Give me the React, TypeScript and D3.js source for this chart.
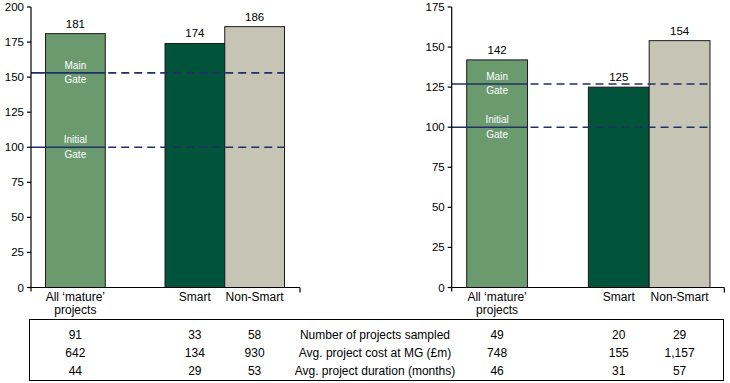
import React from "react";
import * as d3 from "d3";

const slots = ["all", "gap", "smart", "nonsmart"];
const barKeys = ["all", "smart", "nonsmart"];
const barColors = ["#6A9A6E", "#01533A", "#C6C4B5"];
const leftValues = [181, 174, 186];
const rightValues = [142, 125, 154];
const leftGates = [153, 100];
const rightGates = [127, 100];
const gateLabels = [["Main", "Gate"], ["Initial", "Gate"]];
const leftTicks = [0, 25, 50, 75, 100, 125, 150, 175, 200];
const rightTicks = [0, 25, 50, 75, 100, 125, 150, 175];
const tableLabels = [
  "Number of projects sampled",
  "Avg. project cost at MG (£m)",
  "Avg. project duration (months)",
];
const leftTable = [
  ["91", "33", "58"],
  ["642", "134", "930"],
  ["44", "29", "53"],
];
const rightTable = [
  ["49", "20", "29"],
  ["748", "155", "1,157"],
  ["46", "31", "57"],
];

const FONT = "'Liberation Sans', Arial, sans-serif";

type PanelProps = {
  axisX: number;
  axisEnd: number;
  barRange: [number, number];
  yMax: number;
  ticks: number[];
  values: number[];
  gates: number[];
};

function Panel({ axisX, axisEnd, barRange, yMax, ticks, values, gates }: PanelProps) {
  const y = d3.scaleLinear().domain([0, yMax]).range([287.5, 7]);
  const x = d3.scaleBand<string>().domain(slots).range(barRange).padding(0);
  const bw = x.bandwidth();
  const x0 = y(0);
  const firstRight = (x("all") as number) + bw;
  const lastRight = (x("nonsmart") as number) + bw;
  const allCenter = (x("all") as number) + bw / 2;
  return (
    <g>
      {barKeys.map((k, i) => (
        <rect
          key={k}
          x={x(k)}
          y={y(values[i])}
          width={bw}
          height={x0 - y(values[i])}
          fill={barColors[i]}
          stroke="#1a1a1a"
          strokeWidth={1}
        />
      ))}
      {barKeys.map((k, i) => (
        <text
          key={"v" + k}
          x={(x(k) as number) + bw / 2}
          y={y(values[i]) - 6}
          textAnchor="middle"
          fontSize={11.5}
          fontFamily={FONT}
          fill="#000"
        >
          {values[i]}
        </text>
      ))}
      {gates.map((g, i) => (
        <g key={"g" + i}>
          <line x1={axisX} x2={firstRight} y1={y(g)} y2={y(g)} stroke="#1F3164" strokeWidth={1.6} />
          <line
            x1={firstRight}
            x2={lastRight}
            y1={y(g)}
            y2={y(g)}
            stroke="#1F3164"
            strokeWidth={1.6}
            strokeDasharray="8,5"
            strokeDashoffset={-3}
          />
          <text x={allCenter} y={y(g) - 4} textAnchor="middle" fontSize={10} fontFamily={FONT} fill="#fff">
            {gateLabels[i][0]}
          </text>
          <text x={allCenter} y={y(g) + 10.5} textAnchor="middle" fontSize={10} fontFamily={FONT} fill="#fff">
            {gateLabels[i][1]}
          </text>
        </g>
      ))}
      <line x1={axisX} x2={axisX} y1={y(yMax)} y2={x0 + 4} stroke="#000" strokeWidth={1.2} />
      <line x1={axisX} x2={axisEnd} y1={x0} y2={x0} stroke="#000" strokeWidth={1.2} />
      <line x1={axisEnd} x2={axisEnd} y1={x0} y2={x0 + 5} stroke="#000" strokeWidth={1.2} />
      {ticks.map((t) => (
        <g key={"t" + t}>
          <line x1={axisX - 4} x2={axisX} y1={y(t)} y2={y(t)} stroke="#000" strokeWidth={1.2} />
          <text
            x={axisX - 7}
            y={y(t) + 4}
            textAnchor="end"
            fontSize={11.5}
            fontFamily={FONT}
            fill="#000"
          >
            {t}
          </text>
        </g>
      ))}
      <text x={allCenter} y={300.5} textAnchor="middle" fontSize={12} fontFamily={FONT}>
        All ‘mature’
      </text>
      <text x={allCenter} y={314} textAnchor="middle" fontSize={12} fontFamily={FONT}>
        projects
      </text>
      <text x={(x("smart") as number) + bw / 2} y={300.5} textAnchor="middle" fontSize={12} fontFamily={FONT}>
        Smart
      </text>
      <text x={(x("nonsmart") as number) + bw / 2} y={300.5} textAnchor="middle" fontSize={12} fontFamily={FONT}>
        Non-Smart
      </text>
    </g>
  );
}

export default function App() {
  const leftX = d3.scaleBand<string>().domain(slots).range([45.5, 284.5]).padding(0);
  const rightX = d3.scaleBand<string>().domain(slots).range([466.7, 710]).padding(0);
  const rowY = d3.scaleBand<number>().domain([0, 1, 2]).range([326, 380]);
  const centers = (sc: d3.ScaleBand<string>) => barKeys.map((k) => (sc(k) as number) + sc.bandwidth() / 2);
  const lc = centers(leftX);
  const rc = centers(rightX);
  return (
    <svg
      width={730}
      height={383}
      style={{ position: "absolute", left: 0, top: 0, background: "#fff" }}
      fontFamily={FONT}
    >
      <rect x={0} y={0} width={730} height={383} fill="#fff" />
      <Panel
        axisX={31}
        axisEnd={300}
        barRange={[45.5, 284.5]}
        yMax={200}
        ticks={leftTicks}
        values={leftValues}
        gates={leftGates}
      />
      <Panel
        axisX={451.7}
        axisEnd={724.3}
        barRange={[466.7, 710]}
        yMax={175}
        ticks={rightTicks}
        values={rightValues}
        gates={rightGates}
      />
      <rect x={29.5} y={319.5} width={694} height={61} fill="none" stroke="#000" strokeWidth={1} />
      {tableLabels.map((lab, r) => {
        const yy = (rowY(r) as number) + rowY.bandwidth() / 2 + 4;
        return (
          <g key={"r" + r}>
            {leftTable[r].map((v, i) => (
              <text key={"l" + i} x={lc[i]} y={yy} textAnchor="middle" fontSize={12}>
                {v}
              </text>
            ))}
            <text x={375} y={yy} textAnchor="middle" fontSize={12}>
              {lab}
            </text>
            {rightTable[r].map((v, i) => (
              <text key={"rr" + i} x={rc[i]} y={yy} textAnchor="middle" fontSize={12}>
                {v}
              </text>
            ))}
          </g>
        );
      })}
    </svg>
  );
}
